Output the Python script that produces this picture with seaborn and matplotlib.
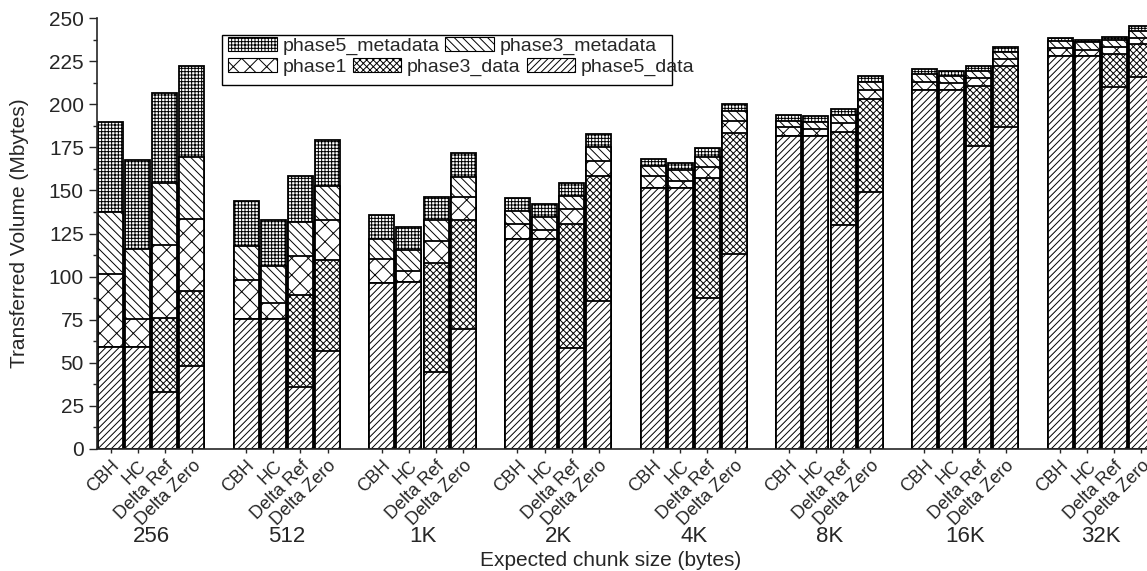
import numpy as np
import pandas as pd
import seaborn as sns
import matplotlib.pyplot as plt
from matplotlib.patches import Patch, Rectangle

# groups and methods
groups = ["256", "512", "1K", "2K", "4K", "8K", "16K", "32K"]
methods = ["CBH", "HC", "Delta Ref", "Delta Zero"]

# cumulative top of each stacked layer (Mbytes), group-major order: CBH, HC, Delta Ref, Delta Zero
p5data_top = [59.3, 59.3, 32.9, 48.3, 75.2, 75.2, 35.8, 56.7, 96.5, 96.7, 44.4, 69.4,
              121.6, 121.6, 58.4, 86.0, 151.6, 151.2, 87.8, 113.1, 181.5, 181.5, 130.1, 148.9,
              208.5, 208.5, 175.5, 187.0, 227.9, 227.9, 209.8, 215.6]
p3data_top = [59.3, 59.3, 75.8, 91.5, 75.2, 75.2, 89.1, 109.6, 96.5, 96.7, 107.7, 132.6,
              121.6, 121.6, 130.5, 158.4, 151.6, 151.2, 157.0, 183.5, 181.5, 181.5, 184.0, 203.0,
              208.5, 208.5, 210.5, 222.0, 227.9, 227.9, 229.1, 234.7]
phase1_top = [101.5, 75.2, 118.1, 133.4, 98.2, 84.9, 111.9, 132.6, 110.0, 103.2, 120.8, 146.0,
              130.5, 126.9, 139.0, 166.9, 158.4, 155.6, 163.4, 190.0, 186.5, 185.5, 189.0, 208.5,
              213.0, 212.5, 215.0, 226.5, 232.4, 231.7, 233.0, 238.6]
p3meta_top = [137.3, 115.8, 154.1, 169.5, 117.9, 106.0, 131.9, 152.6, 121.8, 115.4, 132.6, 157.6,
              138.2, 134.4, 146.9, 175.0, 164.2, 161.8, 169.2, 196.0, 190.5, 189.5, 194.0, 213.0,
              217.5, 216.5, 219.5, 230.0, 236.7, 236.0, 237.2, 242.7]
p5meta_top = [189.5, 167.6, 206.3, 222.2, 144.1, 132.6, 158.5, 179.1, 135.5, 129.0, 146.4, 171.5,
              145.8, 141.9, 154.5, 182.5, 168.1, 165.8, 174.5, 200.0, 194.0, 193.0, 197.5, 216.5,
              220.5, 219.5, 222.0, 233.0, 238.5, 237.5, 239.0, 245.5]

layers = ["phase5_data", "phase3_data", "phase1", "phase3_metadata", "phase5_metadata"]
layer_tops = [p5data_top, p3data_top, phase1_top, p3meta_top, p5meta_top]
hatches = {"phase5_data": "/////", "phase3_data": "xxxxx", "phase1": "xx",
           "phase3_metadata": "\\\\\\\\", "phase5_metadata": "+++++"}

rows = []
for layer, tops in zip(layers, layer_tops):
    for k, top in enumerate(tops):
        g, m = divmod(k, 4)
        rows.append({"layer": layer, "group": groups[g], "method": methods[m],
                     "pos": g * 5 + m, "top": top})
df = pd.DataFrame(rows)

sns.set_style("ticks")
plt.rcParams["font.family"] = ["Liberation Sans", "DejaVu Sans"]
plt.rcParams["hatch.linewidth"] = 0.7

fig = plt.figure(figsize=(11.47, 5.71), dpi=100)
ax = fig.add_axes([97 / 1147, 122 / 571, 1058 / 1147, 431 / 571])

# draw from the top layer down so lower layers cover the upper ones
for layer in reversed(layers):
    sns.barplot(data=df[df["layer"] == layer], x="pos", y="top", native_scale=True,
                width=0.92, color="white", edgecolor="black", linewidth=1.3,
                hatch=hatches[layer], errorbar=None, saturation=1, ax=ax)

ax.set_xlim(-0.5, 38.5)
ax.set_ylim(0, 250)
ax.set_yticks(np.arange(0, 251, 25))
ax.set_yticks(np.arange(0, 251, 12.5), minor=True)
ax.tick_params(axis="y", which="major", length=6, width=1, labelsize=15, direction="out")
ax.tick_params(axis="y", which="minor", length=3, width=1, direction="out")

positions = [g * 5 + m for g in range(len(groups)) for m in range(len(methods))]
ax.set_xticks(positions)
ax.set_xticklabels(methods * len(groups), rotation=45, ha="right", rotation_mode="anchor",
                   fontsize=13)
ax.tick_params(axis="x", length=3, width=1, pad=3)

for g, name in enumerate(groups):
    ax.text(g * 5 + 1.5, -87 / 431, name, transform=ax.get_xaxis_transform(),
            ha="center", va="center", fontsize=16)

sns.despine(ax=ax, top=True, right=True)
for s in ["left", "bottom"]:
    ax.spines[s].set_linewidth(1.2)

ax.set_xlabel("")
ax.set_ylabel("Transferred Volume (Mbytes)", fontsize=15, labelpad=14)
fig.text(611 / 1147, 1 - 560 / 571, "Expected chunk size (bytes)", ha="center", va="center",
         fontsize=15)

# legend: framed box with two independent rows
fig.patches.append(Rectangle((222 / 1147, 1 - 85 / 571), 450 / 1147, 50 / 571,
                             transform=fig.transFigure, facecolor="white", edgecolor="black",
                             linewidth=1.0, zorder=5))


def handle(layer):
    return Patch(facecolor="white", edgecolor="black", hatch=hatches[layer], linewidth=0.8)


row1 = ["phase5_metadata", "phase3_metadata"]
row2 = ["phase1", "phase3_data", "phase5_data"]
for names, ytop in [(row1, 37), (row2, 58)]:
    leg = fig.legend([handle(n) for n in names], names, ncol=len(names), frameon=False,
                     loc="upper left", bbox_to_anchor=(228 / 1147, 1 - ytop / 571),
                     bbox_transform=fig.transFigure, fontsize=14, handlelength=2.5,
                     handleheight=0.75, handletextpad=0.3, columnspacing=0.3,
                     borderpad=0, borderaxespad=0)
    leg.set_zorder(6)

fig.savefig("out.png", dpi=100)
